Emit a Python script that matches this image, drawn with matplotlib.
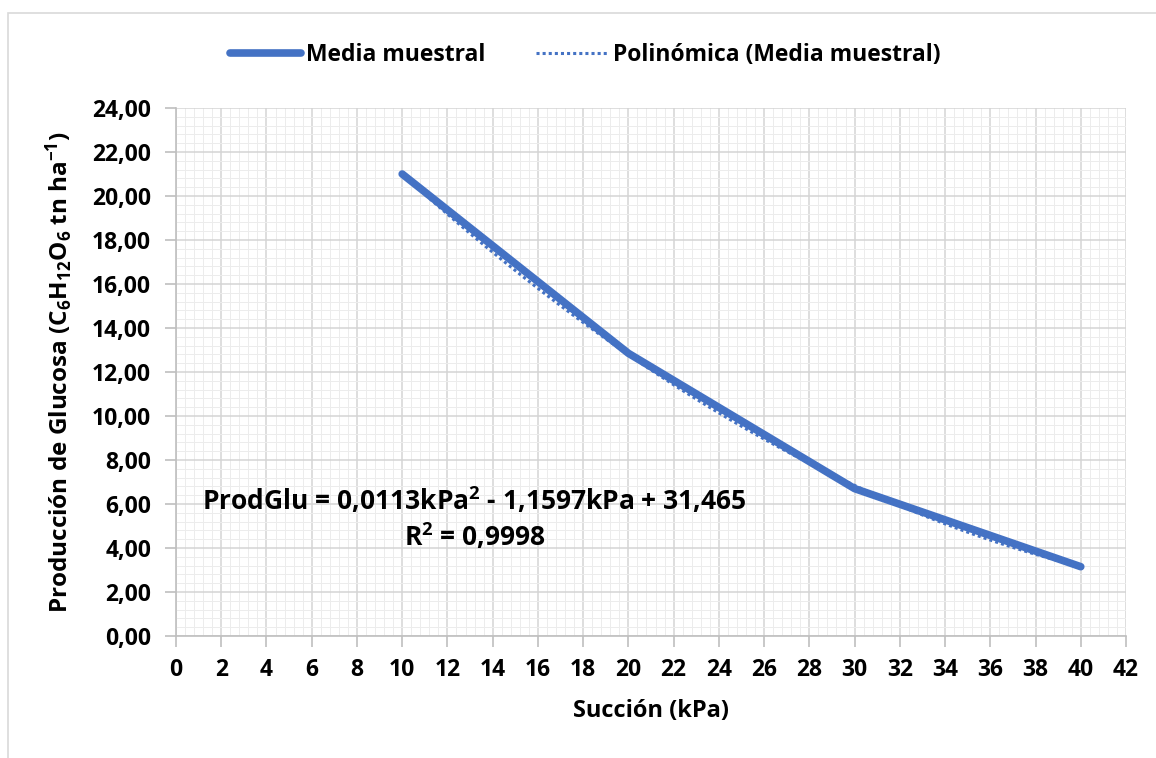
import numpy as np
import matplotlib
matplotlib.use("Agg")
import matplotlib.pyplot as plt
from matplotlib.patches import Rectangle

# ---- data ----
succion = [10, 20, 30, 40]
media_muestral = [21.0, 12.85, 6.70, 3.15]
poly_coef = [0.0113, -1.1597, 31.465]   # trendline coefficients shown on chart
r2 = 0.9998
x_ticks = list(range(0, 43, 2))
y_ticks = list(range(0, 25, 2))
y_tick_labels = [f"{v:.2f}".replace(".", ",") for v in y_ticks]

FONT = "Open Sans"
plt.rcParams["font.family"] = [FONT, "DejaVu Sans"]
plt.rcParams["mathtext.fontset"] = "custom"
plt.rcParams["mathtext.rm"] = f"{FONT}:bold"
plt.rcParams["mathtext.bf"] = f"{FONT}:bold"
plt.rcParams["mathtext.it"] = f"{FONT}:bold"

BLUE = "#4472C4"
fig = plt.figure(figsize=(11.56, 7.58), dpi=100)
W, H = 1156, 758

# outer chart border
fig.patches.append(Rectangle((8 / W, -0.05), 1.2, 1 - 13 / H + 0.05,
                             transform=fig.transFigure, fill=False,
                             edgecolor="#d9d9d9", linewidth=1.2))

ax = fig.add_axes([176 / W, 1 - 636 / H, (1126 - 176) / W, (636 - 108) / H])
ax.set_xlim(0, 42)
ax.set_ylim(0, 24)

# grid
ax.set_xticks(x_ticks)
ax.set_yticks(y_ticks)
ax.set_xticks(np.arange(0, 42.01, 0.4), minor=True)
ax.set_yticks(np.arange(0, 24.01, 0.4), minor=True)
ax.grid(which="major", color="#d4d4d4", linewidth=1.1)
ax.grid(which="minor", color="#ececec", linewidth=0.7)
ax.set_axisbelow(True)
ax.tick_params(which="minor", length=0)
ax.tick_params(which="major", length=8, width=1.2, color="#bfbfbf",
               labelsize=16.5)
ax.tick_params(axis="y", pad=10)
ax.tick_params(axis="x", pad=8)
ax.set_yticklabels(y_tick_labels, fontweight="bold")
ax.set_xticklabels([str(v) for v in x_ticks], fontweight="bold")

for side in ["top", "right"]:
    ax.spines[side].set_visible(False)
for side in ["left", "bottom"]:
    ax.spines[side].set_color("#bfbfbf")
    ax.spines[side].set_linewidth(1.2)

# series
ax.plot(succion, media_muestral, color=BLUE, linewidth=5.5,
        solid_capstyle="round", solid_joinstyle="round", label="Media muestral")
xt = np.linspace(min(succion), max(succion), 200)
yt = np.polyval(poly_coef, xt)
ax.plot(xt, yt, color=BLUE, linewidth=2.2, linestyle=(0, (1, 1)),
        label="Polinómica (Media muestral)")

ax.text(13.2, 5.35,
        "ProdGlu = 0,0113kPa$^{2}$ - 1,1597kPa + 31,465\nR$^{2}$ = 0,9998",
        ha="center", va="center", fontsize=19, fontweight="bold",
        multialignment="center", linespacing=1.2)

ax.set_xlabel("Succión (kPa)", fontsize=17, fontweight="bold", labelpad=12)
ax.set_ylabel(r"Producción de Glucosa (C$_{6}$H$_{12}$O$_{6}$ tn ha$^{-1}$)",
              fontsize=17.5, fontweight="bold", labelpad=12)

leg = fig.legend(loc="center", bbox_to_anchor=(585 / W, 1 - 55 / H), ncol=2,
                 frameon=False,
                 prop={"weight": "bold", "size": 16.5}, handlelength=3.1,
                 columnspacing=2.2, handletextpad=0.25)

fig.savefig("out.png", dpi=100)
